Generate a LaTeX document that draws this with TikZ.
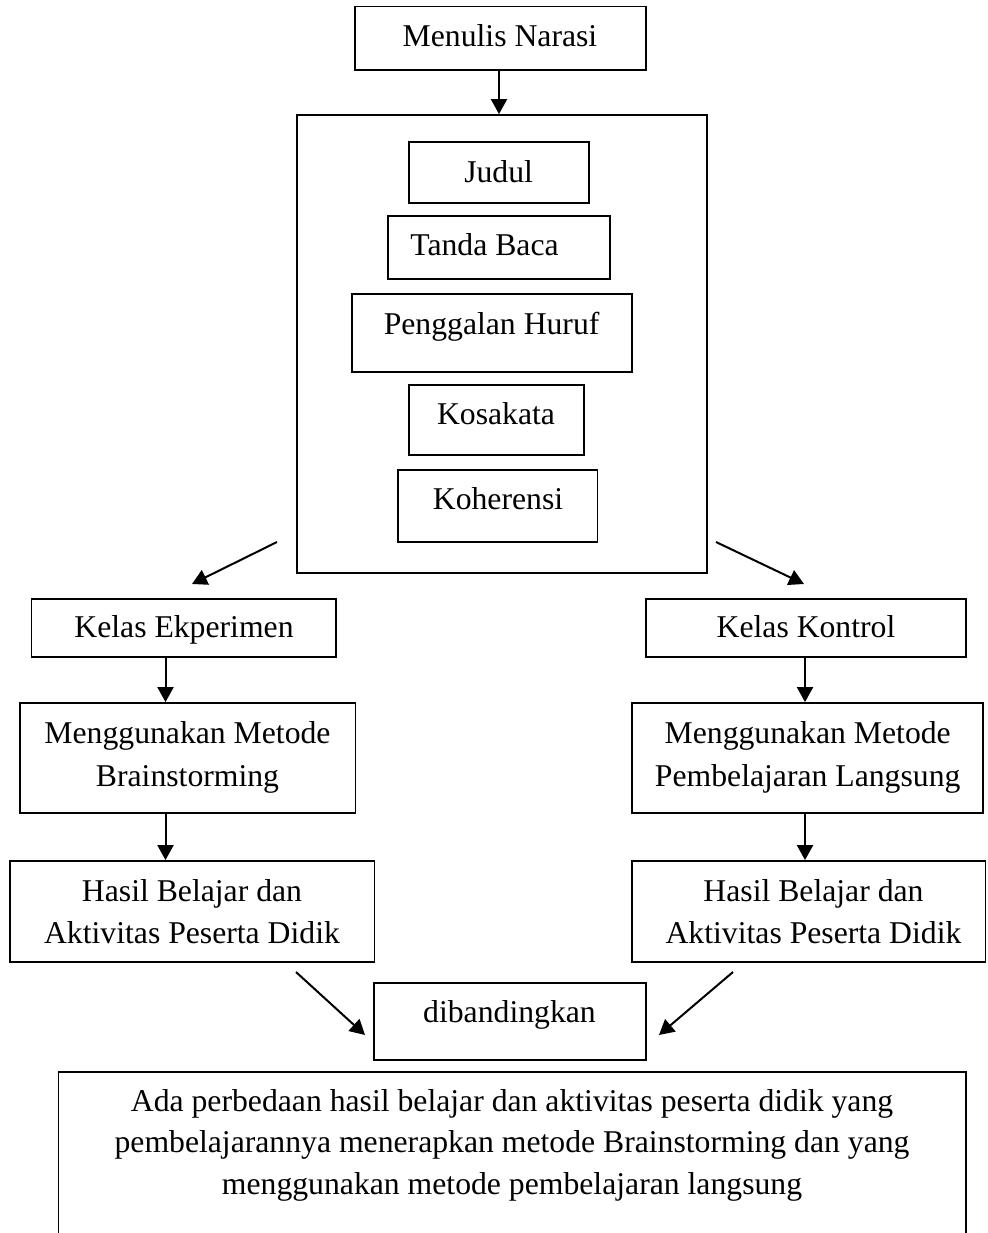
\documentclass[tikz,border=0pt]{standalone}
\usepackage{fontspec}
\setmainfont{Liberation Serif}
\usetikzlibrary{arrows.meta,calc,fit}
\tikzset{
  box/.style={draw, line width=1.8pt, inner sep=0pt},
  txt/.style={anchor=base, inner sep=0pt, font=\fontsize{31.7}{43}\selectfont},
  txttwo/.style={anchor=base, inner sep=0pt, font=\fontsize{31.7}{41.5}\selectfont},
  arr/.style={-{Triangle[length=15pt,width=16pt]}, line width=2pt},
}
\begin{document}
\begin{tikzpicture}[x=1pt,y=-1pt]
\fill[white] (0,0) rectangle (987,1233);
\useasboundingbox (0,0) rectangle (987,1233);

% top box
\node[box, fit={(355,6.5) (646,70)}] (narasi) {};
\node[txt] (tnarasi) at (500,47) {Menulis Narasi};

% big box and inner items
\node[box, fit={(297,115) (707,573)}] (big) {};
\node[box, fit={(409,142) (589,203)}] (judul) {};
\node[txt] (tjudul) at (498.6,183) {Judul};
\node[box, fit={(388,216) (610,279)}] (tanda) {};
\node[txt] (ttanda) at (484.5,255.6) {Tanda Baca};
\node[box, fit={(352,294) (632,372)}] (peng) {};
\node[txt] (tpeng) at (491.6,334) {Penggalan Huruf};
\node[box, fit={(409,385) (584,455)}] (kosa) {};
\node[txt] (tkosa) at (496,424.8) {Kosakata};
\node[box, fit={(398,470) (597.5,542)}] (koh) {};
\node[txt] (tkoh) at (498,509.8) {Koherensi};

% classes
\node[box, fit={(31.5,599) (336,657)}] (ke) {};
\node[txt] (tke) at (184,637) {Kelas Ekperimen};
\node[box, fit={(646,599) (966,657)}] (kk) {};
\node[txt] (tkk) at (806,637) {Kelas Kontrol};

% methods
\node[box, fit={(20,703) (355.5,813)}] (me) {};
\node[txt] (tme) at (187.5,743) {\begin{tabular}[t]{@{}c@{}}Menggunakan Metode\\Brainstorming\end{tabular}};
\node[box, fit={(632,703) (983,813)}] (mk) {};
\node[txt] (tmk) at (807.7,743) {\begin{tabular}[t]{@{}c@{}}Menggunakan Metode\\Pembelajaran Langsung\end{tabular}};

% results
\node[box, fit={(10,861) (374.5,962)}] (he) {};
\node[txttwo] (the) at (192,901.7) {\begin{tabular}[t]{@{}c@{}}Hasil Belajar dan\\Aktivitas Peserta Didik\end{tabular}};
\node[box, fit={(632,861) (985.5,962)}] (hk) {};
\node[txttwo] (thk) at (813.5,901.7) {\begin{tabular}[t]{@{}c@{}}Hasil Belajar dan\\Aktivitas Peserta Didik\end{tabular}};

% compare
\node[box, fit={(374,983) (646,1060)}] (dib) {};
\node[txt] (tdib) at (509.5,1022.7) {dibandingkan};

% conclusion (open at the bottom)
\coordinate (cbl) at (58.5,1240);
\coordinate (ctl) at (58.5,1072);
\coordinate (ctr) at (966,1072);
\coordinate (cbr) at (966,1240);
\draw[line width=1.8pt] (cbl) -- (ctl) -- (ctr) -- (cbr);
\node[txttwo] (tconcl) at (512,1111) {\begin{tabular}[t]{@{}c@{}}Ada perbedaan hasil belajar dan aktivitas peserta didik yang\\pembelajarannya menerapkan metode Brainstorming dan yang\\menggunakan metode pembelajaran langsung\end{tabular}};

% connectors
\coordinate (a0) at ([xshift=-1.5pt]narasi.south);
\draw[arr] (a0) -- (a0 |- big.north);

\coordinate (dl1) at (277,542);
\coordinate (dl2) at (192,584);
\draw[arr] (dl1) -- (dl2);
\coordinate (dr1) at (716,542);
\coordinate (dr2) at (804,584);
\draw[arr] (dr1) -- (dr2);

\coordinate (a1) at ([xshift=-18.25pt]ke.south);
\draw[arr] (a1) -- (a1 |- me.north);
\coordinate (a2) at ([xshift=-1pt]kk.south);
\draw[arr] (a2) -- (a2 |- mk.north);
\coordinate (a3) at (a1 |- me.south);
\draw[arr] (a3) -- (a3 |- he.north);
\coordinate (a4) at (a2 |- mk.south);
\draw[arr] (a4) -- (a4 |- hk.north);

\coordinate (bl1) at (296,972);
\coordinate (bl2) at (365,1035);
\draw[arr] (bl1) -- (bl2);
\coordinate (br1) at (733,972);
\coordinate (br2) at (659,1035);
\draw[arr] (br1) -- (br2);
\end{tikzpicture}
\end{document}
